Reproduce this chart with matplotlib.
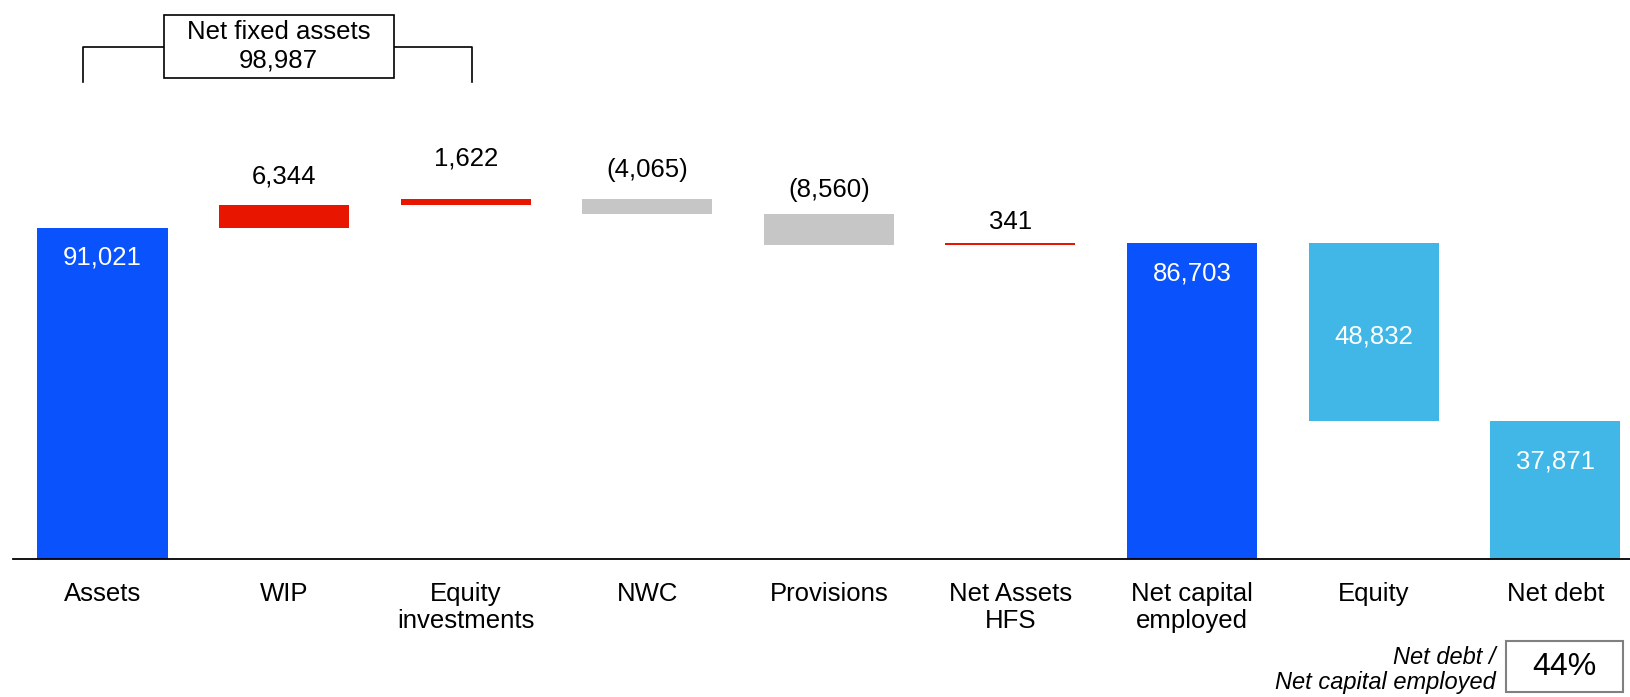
import numpy as np
import matplotlib.pyplot as plt
from matplotlib.patches import Rectangle

plt.rcParams['font.family'] = ['Liberation Sans', 'DejaVu Sans']

# dati
categorie = ['Assets', 'WIP', 'Equity\ninvestments', 'NWC', 'Provisions',
             'Net Assets\nHFS', 'Net capital\nemployed', 'Equity', 'Net debt']
valori = [91021, 6344, 1622, -4065, -8560, 341, 86703, 48832, 37871]
tipi = ['total', 'step', 'step', 'step', 'step', 'step', 'total', 'split', 'split']

col_blu = '#0A52FC'
col_rosso = '#E81600'
col_grigio = '#C6C6C6'
col_azzurro = '#40B7E6'

# offset etichette (punti), positivo = sopra la barra, negativo = dentro
offset_etichette = [-21.5, 20.5, 29, 21, 17, 15.5, -21.5, -67, -29.5]

# calcolo basi e colori
basi = []
colori = []
corrente = 0
for v, t in zip(valori, tipi):
    if t == 'total':
        basi.append(0)
        corrente = v
        colori.append(col_blu)
    elif t == 'step':
        if v >= 0:
            basi.append(corrente)
            colori.append(col_rosso)
        else:
            basi.append(corrente + v)
            colori.append(col_grigio)
        corrente += v
    else:
        corrente -= v
        basi.append(corrente)
        colori.append(col_azzurro)

altezze = [abs(v) for v in valori]
xs = np.arange(len(categorie))

fig = plt.figure(figsize=(16.31, 6.97), dpi=100)
ax = fig.add_axes([12.5 / 1631, 138.4 / 697, 1 - 12.5 / 1631, 558.6 / 697])
ax.bar(xs, altezze, bottom=basi, width=0.716, color=colori, zorder=2)

ax.set_xlim(-0.4956, 8.417)
ax.set_ylim(0, 153700)

for s in ['top', 'left', 'right']:
    ax.spines[s].set_visible(False)
ax.spines['bottom'].set_linewidth(1.3)
ax.set_yticks([])
ax.set_xticks(xs)
ax.set_xticklabels(categorie, fontsize=18.5, linespacing=1.17)
ax.tick_params(axis='x', length=0, pad=16.5)


def fmt(v):
    if v < 0:
        return '({:,})'.format(-v)
    return '{:,}'.format(v)


for i in range(len(valori)):
    top = basi[i] + altezze[i]
    off = offset_etichette[i]
    colore = 'white' if off < 0 else 'black'
    ax.annotate(fmt(valori[i]), (xs[i], top), xytext=(0, off),
                textcoords='offset points', ha='center', va='center',
                fontsize=18.5, color=colore, zorder=3)

# parentesi Net fixed assets
nfa = sum(valori[:3])
ax.plot([-0.109, -0.109, 2.033, 2.033], [131090, 140840, 140840, 131090],
        color='black', lw=1.2, clip_on=False, zorder=3)
ax.add_patch(Rectangle((0.336, 132250), 1.603 - 0.336, 149700 - 132250,
                       facecolor='white', edgecolor='black', lw=1.2,
                       clip_on=False, zorder=4))
ax.text(0.97, 140970, 'Net fixed assets\n' + fmt(nfa), ha='center', va='center',
        fontsize=18.5, linespacing=1.21, zorder=5)

# rapporto net debt / net capital employed
rapporto = valori[8] / valori[6]
ax.text(7.673, -30650, 'Net debt /\nNet capital employed', ha='right', va='center',
        fontsize=17, style='italic', linespacing=1.1, clip_on=False)
ax.add_patch(Rectangle((7.729, -36710), 8.373 - 7.729, 36710 - 22670,
                       facecolor='white', edgecolor='#808080', lw=1.5,
                       clip_on=False, zorder=4))
ax.text(8.051, -29690, '{:.0f}%'.format(rapporto * 100), ha='center', va='center',
        fontsize=23, zorder=5, clip_on=False)

plt.savefig('out.png', dpi=100)
